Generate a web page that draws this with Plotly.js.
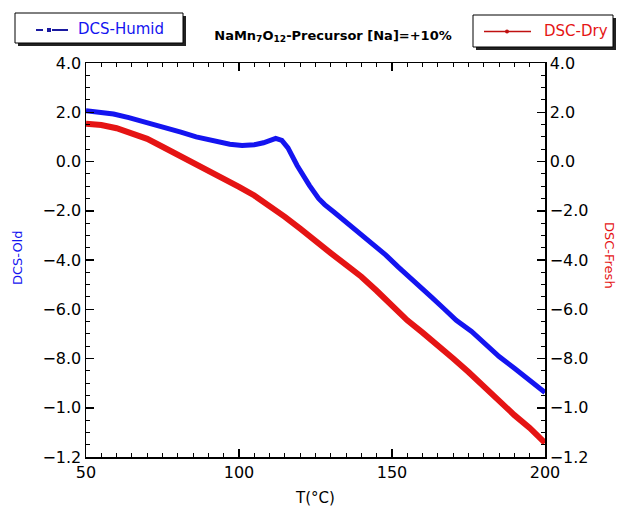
<!DOCTYPE html>
<html>
<head>
<meta charset="utf-8">
<script src="https://cdn.plot.ly/plotly-3.0.1.min.js"></script>
<style>html,body{margin:0;padding:0;background:#fff;}#chart{width:617px;height:513px;}</style>
</head>
<body>
<div id="chart"></div>
<script>
// Temperature (°C) and signal values (axis units: label "−1.0" = -10, "−1.2" = -12)
const humidT = [50, 54, 59, 64, 70, 75, 81, 86, 92, 97, 101, 105, 108, 110, 112, 114, 116, 119, 121, 123, 126, 128, 131, 135, 140, 144, 148, 152, 156, 159, 163, 167, 171, 176, 181, 185, 190, 195, 198, 200];
const humidV = [2.06, 2.02, 1.93, 1.78, 1.59, 1.40, 1.19, 1.00, 0.81, 0.70, 0.65, 0.68, 0.76, 0.86, 0.94, 0.86, 0.55, -0.16, -0.60, -0.97, -1.50, -1.75, -2.05, -2.46, -2.92, -3.33, -3.80, -4.28, -4.75, -5.12, -5.52, -5.98, -6.45, -6.90, -7.45, -7.92, -8.40, -8.87, -9.15, -9.38];
const dryT = [50, 55, 60, 65, 70, 75, 80, 85, 90, 95, 100, 105, 110, 115, 120, 125, 130, 135, 140, 145, 150, 155, 160, 165, 170, 175, 180, 185, 190, 195, 200];
const dryV = [1.53, 1.48, 1.35, 1.16, 0.92, 0.60, 0.28, -0.05, -0.35, -0.70, -1.03, -1.38, -1.78, -2.25, -2.73, -3.25, -3.72, -4.20, -4.68, -5.25, -5.85, -6.45, -6.95, -7.45, -8.00, -8.55, -9.15, -9.75, -10.30, -10.82, -11.43];
const yTickVals = [4, 2, 0, -2, -4, -6, -8, -10, -12];
const yTickText = ["4.0", "2.0", "0.0", "\u22122.0", "\u22124.0", "\u22126.0", "\u22128.0", "\u22121.0", "\u22121.2"];
const xTickVals = [50, 100, 150, 200];

const BLUE = '#1414f0';
const RED = '#e51414';
const FONT = 'DejaVu Sans, Verdana, sans-serif';

const traces = [
  {x: humidT, y: humidV, mode: 'lines', name: 'DCS-Humid', line: {color: BLUE, width: 5}, showlegend: false},
  {x: dryT, y: dryV, mode: 'lines', name: 'DSC-Dry', line: {color: RED, width: 6}, showlegend: false, yaxis: 'y2'}
];

const W = 617, H = 513;
const L = 86, R = 545, T = 63, B = 457;
function fx(x){return (x - L) / (R - L);}
function fy(y){return (B - y) / (B - T);}

const yCommon = {
  range: [-12, 4], tickmode: 'array', tickvals: yTickVals, ticktext: yTickText,
  ticks: 'inside', ticklen: 8, tickwidth: 1.5, tickcolor: '#000',
  minor: {tickmode: 'linear', tick0: 0, dtick: 0.5, ticks: 'inside', ticklen: 4, tickwidth: 1, tickcolor: '#000'},
  showgrid: false, zeroline: false, showline: true, linecolor: '#000', linewidth: 1.5,
  tickfont: {family: FONT, size: 16, color: '#000'}, fixedrange: true
};

const layout = {
  width: W, height: H,
  margin: {l: L, r: W - R, t: T, b: H - B},
  paper_bgcolor: '#fff', plot_bgcolor: '#fff',
  font: {family: FONT},
  title: {text: 'NaMn<sub>7</sub>O<sub>12</sub>-Precursor [Na]=+10%', font: {family: FONT, size: 13, color: '#000', weight: 'bold'},
          xref: 'paper', x: fx(333), xanchor: 'center', yref: 'container', y: 1 - 35 / H, yanchor: 'middle'},
  xaxis: {
    range: [50, 200], tickmode: 'array', tickvals: xTickVals,
    ticks: 'inside', ticklen: 8, tickwidth: 1.5, tickcolor: '#000',
    minor: {tickmode: 'linear', tick0: 50, dtick: 5, ticks: 'inside', ticklen: 4, tickwidth: 1, tickcolor: '#000'},
    mirror: 'ticks', showline: true, linecolor: '#000', linewidth: 1.5,
    showgrid: false, zeroline: false,
    tickfont: {family: FONT, size: 16, color: '#000'},
    title: {text: 'T(\u00B0C)', font: {family: FONT, size: 15, color: '#000'}, standoff: 12}
  },
  yaxis: Object.assign({}, yCommon, {side: 'left'}),
  yaxis2: Object.assign({}, yCommon, {side: 'right', overlaying: 'y'}),
  shapes: [
    // left legend box: shadow + box + sample
    {type: 'rect', xref: 'paper', yref: 'paper', x0: fx(18), x1: fx(186), y0: fy(16), y1: fy(46), fillcolor: '#222', line: {width: 0}, layer: 'above'},
    {type: 'rect', xref: 'paper', yref: 'paper', x0: fx(15), x1: fx(183), y0: fy(13), y1: fy(43), fillcolor: '#fff', line: {color: '#000', width: 1}, layer: 'above'},
    {type: 'line', xref: 'paper', yref: 'paper', x0: fx(36), x1: fx(43), y0: fy(30), y1: fy(30), line: {color: '#1a1aa0', width: 2}, layer: 'above'},
    {type: 'line', xref: 'paper', yref: 'paper', x0: fx(52), x1: fx(68), y0: fy(30), y1: fy(30), line: {color: '#1a1aa0', width: 2}, layer: 'above'},
    {type: 'rect', xref: 'paper', yref: 'paper', x0: fx(47), x1: fx(51), y0: fy(28), y1: fy(32), fillcolor: '#1a1aa0', line: {width: 0}, layer: 'above'},
    // right legend box: shadow + box + sample
    {type: 'rect', xref: 'paper', yref: 'paper', x0: fx(476), x1: fx(616), y0: fy(18), y1: fy(50), fillcolor: '#222', line: {width: 0}, layer: 'above'},
    {type: 'rect', xref: 'paper', yref: 'paper', x0: fx(473), x1: fx(613), y0: fy(15), y1: fy(47), fillcolor: '#fff', line: {color: '#000', width: 1}, layer: 'above'},
    {type: 'line', xref: 'paper', yref: 'paper', x0: fx(484), x1: fx(531), y0: fy(31.5), y1: fy(31.5), line: {color: '#c01010', width: 1.5}, layer: 'above'},
    {type: 'circle', xref: 'paper', yref: 'paper', x0: fx(505), x1: fx(509), y0: fy(29.5), y1: fy(33.5), fillcolor: '#c01010', line: {width: 0}, layer: 'above'}
  ],
  annotations: [
    {text: 'DCS-Humid', xref: 'paper', yref: 'paper', x: fx(76), y: fy(29), xanchor: 'left', yanchor: 'middle', showarrow: false, font: {family: FONT, size: 15, color: BLUE}},
    {text: 'DSC-Dry', xref: 'paper', yref: 'paper', x: fx(542), y: fy(31), xanchor: 'left', yanchor: 'middle', showarrow: false, font: {family: FONT, size: 15, color: RED}},
    {text: 'DCS-Old', xref: 'paper', yref: 'paper', x: fx(17), y: fy(258), xanchor: 'center', yanchor: 'middle', textangle: -90, showarrow: false, font: {family: FONT, size: 13, color: BLUE}},
    {text: 'DSC-Fresh', xref: 'paper', yref: 'paper', x: fx(610), y: fy(255), xanchor: 'center', yanchor: 'middle', textangle: 90, showarrow: false, font: {family: FONT, size: 13, color: RED}}
  ]
};

Plotly.newPlot('chart', traces, layout, {displayModeBar: false, staticPlot: true});
</script>
</body>
</html>
